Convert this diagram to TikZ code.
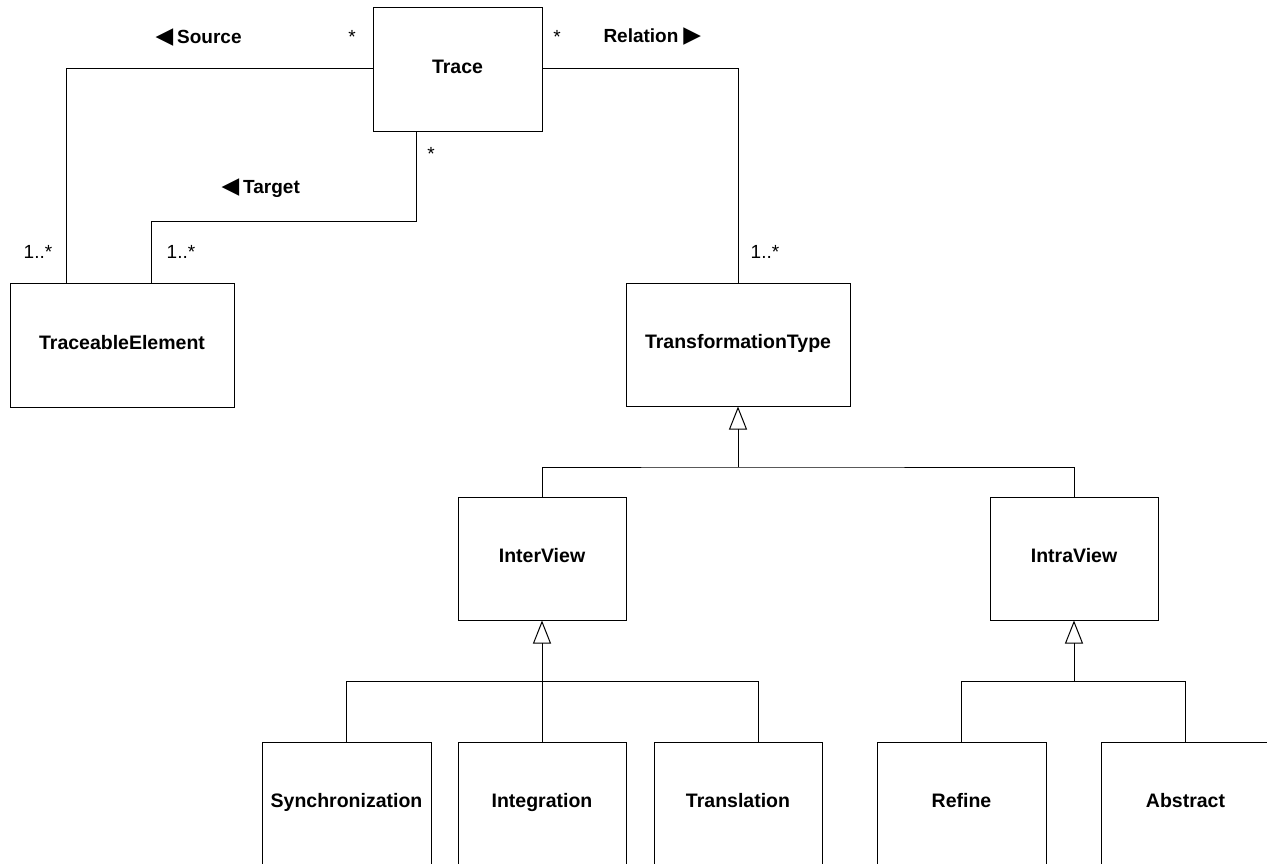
\documentclass[tikz,border=0pt]{standalone}
\usepackage{fontspec}
\setmainfont{Liberation Sans}
\newfontfamily\symfont{DejaVu Sans}
\usetikzlibrary{arrows.meta}
\begin{document}
\begin{tikzpicture}[x=1pt, y=-1pt, line width=1pt,
  classbox/.style={draw, line width=1pt, fill=white, inner sep=0pt,
    text height=15pt, text depth=7pt,
    font=\fontsize{19.5}{22}\selectfont\bfseries,
    minimum width=168pt, minimum height=123pt},
  widebox/.style={classbox, minimum width=224pt},
  mult/.style={inner sep=0pt, anchor=base, font=\fontsize{19}{22}\selectfont},
  role/.style={inner sep=0pt, anchor=base west, font=\fontsize{19}{22}\selectfont\bfseries},
  inherit/.style={-{Triangle[open, length=23pt, width=18pt, line width=1pt]}},
  assoc/.style={line width=1pt}]

% canvas
\useasboundingbox (0,0) rectangle (1267,863);
\fill[white] (0,0) rectangle (1267,863);
\clip (0,0) rectangle (1267,863);

% classes
\node[classbox, minimum width=169pt, minimum height=124pt] (trace) at (457.5,69) {Trace};
\node[widebox, minimum height=124pt] (tel) at (122,345) {TraceableElement};
\node[widebox] (ttype) at (738,344.5) {TransformationType};
\node[classbox] (inter) at (542,558.5) {InterView};
\node[classbox] (intra) at (1074,558.5) {IntraView};
\node[classbox, minimum width=169pt] (sync) at (346.5,803.5) {Synchronization};
\node[classbox] (integ) at (542,803.5) {Integration};
\node[classbox] (transl) at (738,803.5) {Translation};
\node[classbox, minimum width=169pt] (refine) at (961.5,803.5) {Refine};
\node[classbox, minimum width=169pt] (abstr) at (1185.5,803.5) {Abstract};

% associations
\draw[assoc] ([yshift=1pt]trace.west) -| ([xshift=-56pt]tel.north);
\draw[assoc] ([yshift=1pt]trace.east) -| (ttype.north);
\draw[assoc] ([xshift=-41.5pt]trace.south) -- ++(0,90) -| ([xshift=29pt]tel.north);

% generalisation trees
\coordinate (j1) at (738,467);
\draw (inter.north) |- (j1) -| (intra.north);
\draw[inherit] (j1) -- (ttype.south);

\coordinate (j2) at (542,681);
\draw (sync.north) |- (j2) -| ([xshift=20pt]transl.north);
\draw (j2) -- (integ.north);
\draw[inherit] (j2) -- (inter.south);

\coordinate (j3) at (1074,681);
\draw (refine.north) |- (j3) -| (abstr.north);
\draw[inherit] (j3) -- (intra.south);

% role names
\node[role] (rsrc) at (155,43) {{\symfont\fontsize{23}{22}\selectfont ◀}\hspace{4pt}Source};
\node[role] (rtgt) at (221,193) {{\symfont\fontsize{23}{22}\selectfont ◀}\hspace{4pt}Target};
\node[role] (rrel) at (603,42) {Relation\hspace{5pt}{\symfont\fontsize{23}{22}\selectfont ▶}};

% multiplicities
\node[mult] (m1) at (352,43) {*};
\node[mult] (m2) at (557,43) {*};
\node[mult] (m3) at (431,160) {*};
\node[mult] (m4) at (38,258) {1..*};
\node[mult] (m5) at (181,258) {1..*};
\node[mult] (m6) at (765,258) {1..*};
\end{tikzpicture}
\end{document}
